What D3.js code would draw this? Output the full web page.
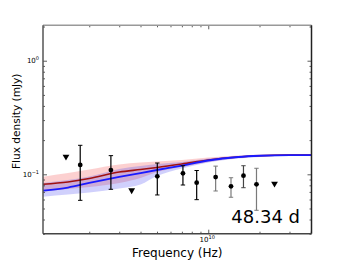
<!DOCTYPE html>
<html><head><meta charset="utf-8">
<script src="https://cdn.jsdelivr.net/npm/d3@7"></script>
<style>
body{margin:0;background:#fff}
svg{display:block}
text{font-family:"DejaVu Sans",sans-serif;fill:#000}
</style>
</head><body>
<svg id="c" width="346" height="260"></svg>
<script>
// ---- data ----
const obsFreq  = [1.77e9, 2.68e9, 5.02e9, 7.1e9, 8.55e9, 1.105e10, 1.36e10, 1.61e10, 1.92e10];
const obsFlux  = [0.121, 0.109, 0.096, 0.102, 0.0844, 0.0946, 0.0784, 0.0972, 0.0817];
const obsHigh  = [0.180, 0.146, 0.1257, 0.119, 0.108, 0.118, 0.0933, 0.119, 0.113];
const obsLow   = [0.059, 0.0738, 0.0658, 0.0805, 0.0598, 0.0713, 0.0628, 0.0762, 0.0482];
const obsBand  = ["L","S","C","C","X","X","Ku","Ku","Ku2"];
const limFreq  = [1.46e9, 3.55e9, 2.45e10];
const limFlux  = [0.143, 0.0723, 0.0827];

const modelFreq = [1.07e9, 1.5e9, 2e9, 3e9, 4e9, 5e9, 7e9, 1e10, 1.5e10, 2e10, 3e10, 4.04e10];
const redModel  = [0.0817, 0.0856, 0.0918, 0.1047, 0.1102, 0.1148, 0.1232, 0.1336, 0.1420, 0.1457, 0.1478, 0.1478];
const redHigh   = [0.0953, 0.1026, 0.1102, 0.1220, 0.1270, 0.1296, 0.1336, 0.1405, 0.1463, 0.1493, 0.1509, 0.1509];
const redLow    = [0.0703, 0.0743, 0.0773, 0.0839, 0.0928, 0.1047, 0.1159, 0.1283, 0.1391, 0.1434, 0.1448, 0.1448];
const blueModel = [0.0718, 0.0765, 0.0839, 0.0947, 0.1026, 0.1091, 0.1195, 0.1323, 0.1420, 0.1457, 0.1478, 0.1478];
const blueHigh  = [0.0839, 0.0891, 0.0956, 0.1113, 0.1183, 0.1232, 0.1283, 0.1377, 0.1448, 0.1478, 0.1509, 0.1509];
const blueLow   = [0.0635, 0.0664, 0.0692, 0.0750, 0.0813, 0.0966, 0.1125, 0.1270, 0.1377, 0.1420, 0.1448, 0.1448];

const xDomain = [1.07e9, 4.04e10];
const yDomain = [0.03, 2.05];
const xMajor = [1e10];
const xMinor = [2e9,3e9,4e9,5e9,6e9,7e9,8e9,9e9,2e10,3e10,4e10];
const yMajor = [1, 0.1];
const yMinor = [0.03,0.04,0.05,0.06,0.07,0.08,0.09,0.2,0.3,0.4,0.5,0.6,0.7,0.8,0.9,2];
const epochLabel = "48.34 d";
const xTitle = "Frequency (Hz)";
const yTitle = "Flux density (mJy)";

// ---- layout / style ----
const L = 43, R = 311.5, T = 25.3, B = 233.7;
const bandColor = d3.scaleOrdinal().domain(["L","S","C","X","Ku","Ku2"])
  .range(["#000","#000","#000","#000","#777","#777"]);
const errColorByIndex = (i) => i < 5 ? "#000" : (i === 7 ? "#444" : "#7a7a7a");

const svg = d3.select("#c");
const x = d3.scaleLog().domain(xDomain).range([L, R]);
const y = d3.scaleLog().domain(yDomain).range([B, T]);

const clip = svg.append("defs").append("clipPath").attr("id","pc")
  .append("rect").attr("x",L).attr("y",T).attr("width",R-L).attr("height",B-T);
const plot = svg.append("g").attr("clip-path","url(#pc)");

const md = modelFreq.map((f,i)=>({f, r:redModel[i], rh:redHigh[i], rl:redLow[i], b:blueModel[i], bh:blueHigh[i], bl:blueLow[i]}));
const curve = d3.curveMonotoneX;
const area = (hi, lo) => d3.area().curve(curve).x(d=>x(d.f)).y0(d=>y(d[lo])).y1(d=>y(d[hi]));
const line = (k) => d3.line().curve(curve).x(d=>x(d.f)).y(d=>y(d[k]));

plot.append("path").datum(md).attr("d", area("rh","rl")).attr("fill","rgba(240,40,40,0.22)");
plot.append("path").datum(md).attr("d", area("bh","bl")).attr("fill","rgba(40,40,240,0.22)");
plot.append("path").datum(md).attr("d", line("r")).attr("fill","none").attr("stroke","#a01010").attr("stroke-width",1.6);
plot.append("path").datum(md).attr("d", line("b")).attr("fill","none").attr("stroke","#1a1aff").attr("stroke-width",1.8);

// error bars
const obs = obsFreq.map((f,i)=>({f, v:obsFlux[i], hi:obsHigh[i], lo:obsLow[i], i}));
const eb = plot.append("g");
obs.forEach(d=>{
  const c = errColorByIndex(d.i);
  const cx = x(d.f);
  eb.append("line").attr("x1",cx).attr("x2",cx).attr("y1",y(d.hi)).attr("y2",y(d.lo)).attr("stroke",c).attr("stroke-width",1.2);
  [d.hi,d.lo].forEach(v=>eb.append("line").attr("x1",cx-2.2).attr("x2",cx+2.2).attr("y1",y(v)).attr("y2",y(v)).attr("stroke",c).attr("stroke-width",1));
});
plot.append("g").selectAll("circle").data(obs).join("circle")
  .attr("cx",d=>x(d.f)).attr("cy",d=>y(d.v)).attr("r",2.4).attr("fill","#000");
const tri = d3.symbol().type(d3.symbolTriangle).size(20);
plot.append("g").selectAll("path").data(limFreq.map((f,i)=>({f,v:limFlux[i]}))).join("path")
  .attr("d",tri).attr("transform",d=>`translate(${x(d.f)},${y(d.v)}) rotate(180)`).attr("fill","#000");

// axes (inward ticks on all sides)
function ticks(axisGen, tr, vals, size){
  const g = svg.append("g").attr("transform",tr)
    .call(axisGen.tickValues(vals).tickSize(size).tickFormat(""));
  g.select(".domain").remove();
  g.selectAll(".tick line").attr("stroke","#333").attr("stroke-width",0.8);
  return g;
}
ticks(d3.axisBottom(x), `translate(0,${B})`, xMinor, -2);
ticks(d3.axisBottom(x), `translate(0,${B})`, xMajor, -4);
ticks(d3.axisTop(x), `translate(0,${T})`, xMinor, -2);
ticks(d3.axisTop(x), `translate(0,${T})`, xMajor, -4);
ticks(d3.axisLeft(y), `translate(${L},0)`, yMinor, -2);
ticks(d3.axisLeft(y), `translate(${L},0)`, yMajor, -4);
ticks(d3.axisRight(y), `translate(${R},0)`, yMinor, -2);
ticks(d3.axisRight(y), `translate(${R},0)`, yMajor, -4);

// tick labels as 10^n
function powLabel(g, v, px, py, anchor){
  const e = Math.round(Math.log10(v));
  const t = g.append("text").attr("x",px).attr("y",py).attr("text-anchor",anchor).attr("font-size",7);
  t.append("tspan").text("10");
  t.append("tspan").attr("dy",-3).attr("font-size",5).text(String(e).replace("-","\u2212"));
}
const lab = svg.append("g");
yMajor.forEach(v=>powLabel(lab, v, L-4, y(v)+2.5, "end"));
xMajor.forEach(v=>powLabel(lab, v, x(v)-1, B+8.5, "middle"));

// frame
svg.append("line").attr("x1",L).attr("x2",R).attr("y1",T).attr("y2",T).attr("stroke","#999").attr("stroke-width",1.5);
svg.append("line").attr("x1",L).attr("x2",L).attr("y1",T).attr("y2",B).attr("stroke","#555").attr("stroke-width",1.5);
svg.append("line").attr("x1",R).attr("x2",R).attr("y1",T).attr("y2",B).attr("stroke","#222").attr("stroke-width",1.5);
svg.append("line").attr("x1",L).attr("x2",R).attr("y1",B).attr("y2",B).attr("stroke","#444").attr("stroke-width",1.5);

// titles
svg.append("text").attr("x",(L+R)/2).attr("y",256.5).attr("text-anchor","middle").attr("font-size",12).text(xTitle);
svg.append("text").attr("transform","translate(20.3,121.3) rotate(-90)").attr("text-anchor","middle").attr("font-size",10.6).text(yTitle);
svg.append("text").attr("x",231.3).attr("y",222.5).attr("font-size",18).text(epochLabel);
</script>
</body></html>
